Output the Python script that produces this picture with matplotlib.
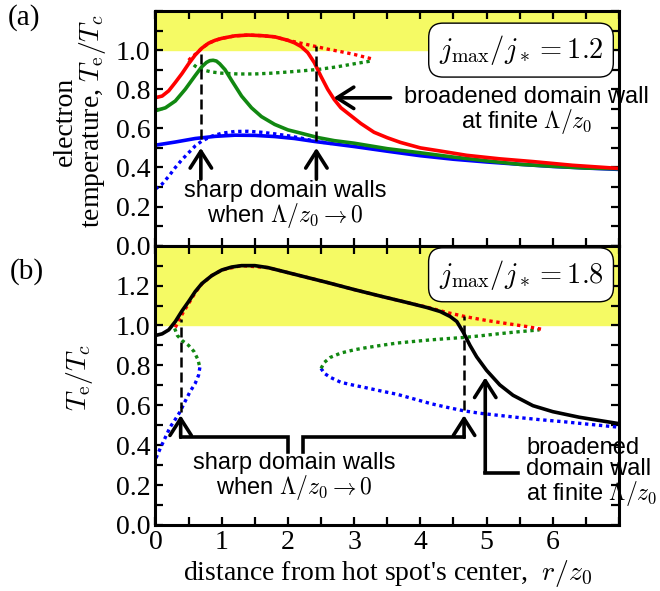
import matplotlib
matplotlib.use('Agg')
import matplotlib.pyplot as plt
from matplotlib.ticker import MultipleLocator

# ---------- panel (a): j_max/j_* = 1.2 ----------
r_red_a = [0, 0.1, 0.2, 0.3, 0.4, 0.5, 0.6, 0.7, 0.8, 0.9, 1.0, 1.2, 1.4, 1.6, 1.8, 2.0, 2.1, 2.2, 2.3, 2.4,
           2.5, 2.6, 2.7, 2.8, 2.95, 3.1, 3.3, 3.5, 3.7, 4.0, 4.3, 4.7, 5.2, 5.7, 6.3, 7.0]
t_red_a = [0.757, 0.765, 0.792, 0.835, 0.88, 0.93, 0.975, 1.01, 1.035, 1.05, 1.06, 1.073, 1.077, 1.074, 1.068, 1.05,
           1.037, 1.018, 0.987, 0.935, 0.865, 0.8, 0.747, 0.705, 0.665, 0.625, 0.58, 0.552, 0.528, 0.5, 0.484,
           0.462, 0.444, 0.43, 0.411, 0.395]
r_green_a = [0, 0.15, 0.3, 0.45, 0.6, 0.7, 0.77, 0.82, 0.87, 0.92, 0.97, 1.05, 1.15, 1.3, 1.45, 1.6, 1.8, 2.0,
             2.2, 2.45, 2.7, 3.0, 3.5, 4.0, 4.5, 5.0, 5.5, 6.0, 6.5, 7.0]
t_green_a = [0.69, 0.705, 0.74, 0.8, 0.87, 0.915, 0.937, 0.946, 0.948, 0.944, 0.93, 0.9, 0.845, 0.765, 0.705,
             0.66, 0.62, 0.592, 0.575, 0.553, 0.537, 0.524, 0.496, 0.475, 0.453, 0.434, 0.416, 0.406, 0.397, 0.393]
r_blue_a = [0, 0.3, 0.6, 0.9, 1.2, 1.5, 1.8, 2.1, 2.4, 2.7, 3.0, 3.5, 4.0, 4.5, 5.0, 5.5, 6.0, 6.5, 7.0]
t_blue_a = [0.514, 0.53, 0.548, 0.559, 0.565, 0.564, 0.558, 0.548, 0.533, 0.52, 0.507, 0.483, 0.46, 0.442,
            0.428, 0.416, 0.405, 0.397, 0.39]
# branches of the sharp-wall (Lambda -> 0) solution
r_red_dot_a = [0.5, 0.55, 0.6, 0.7, 0.8, 0.9, 1.0, 1.2, 1.4, 1.6, 1.8, 2.0, 2.2, 2.4, 2.6, 2.8, 3.0, 3.27]
t_red_dot_a = [0.948, 0.965, 0.978, 1.01, 1.035, 1.05, 1.06, 1.073, 1.077, 1.074, 1.068, 1.05, 1.035, 1.02,
               1.005, 0.992, 0.978, 0.955]
r_green_dot_a = [0.5, 0.6, 0.7, 0.85, 1.0, 1.25, 1.5, 1.75, 2.0, 2.25, 2.5, 2.75, 3.0, 3.27]
t_green_dot_a = [0.948, 0.918, 0.9, 0.888, 0.882, 0.878, 0.878, 0.882, 0.888, 0.895, 0.903, 0.915, 0.93, 0.945]
r_blue_dot_a = [0, 0.1, 0.2, 0.3, 0.4, 0.5, 0.6, 0.7, 0.85, 1.0, 1.2, 1.4, 1.6, 1.8, 2.0, 2.2, 2.4, 2.7]
t_blue_dot_a = [0.29, 0.315, 0.355, 0.4, 0.44, 0.475, 0.51, 0.535, 0.56, 0.575, 0.584, 0.585, 0.58, 0.572,
                0.562, 0.55, 0.535, 0.52]
walls_a = [0.685, 2.43]
walls_a_top = [1.0, 1.02]
walls_a_bot = [0.548, 0.533]

# ---------- panel (b): j_max/j_* = 1.8 ----------
r_black_b = [0, 0.1, 0.2, 0.3, 0.4, 0.5, 0.6, 0.7, 0.85, 1.0, 1.15, 1.3, 1.5, 1.7, 2.0, 2.3, 2.6, 3.0, 3.4,
             3.8, 4.1, 4.3, 4.45, 4.55, 4.65, 4.75, 4.85, 5.0, 5.2, 5.4, 5.7, 6.0, 6.4, 7.0]
t_black_b = [0.95, 0.958, 0.978, 1.02, 1.073, 1.12, 1.17, 1.21, 1.25, 1.278, 1.293, 1.3, 1.3, 1.29, 1.265,
             1.24, 1.215, 1.18, 1.147, 1.115, 1.09, 1.07, 1.045, 1.02, 0.965, 0.9, 0.843, 0.775, 0.702, 0.65,
             0.598, 0.568, 0.54, 0.508]
r_red_dot_b = [0.3, 0.35, 0.42, 0.5, 0.6, 0.7, 0.85, 1.0, 1.3, 1.7, 2.0, 2.6, 3.0, 3.4, 3.8, 4.1, 4.4, 4.7,
               5.0, 5.3, 5.6, 5.85]
t_red_dot_b = [0.99, 1.025, 1.067, 1.11, 1.165, 1.208, 1.25, 1.278, 1.3, 1.29, 1.265, 1.215, 1.18, 1.147,
               1.115, 1.092, 1.065, 1.043, 1.025, 1.01, 0.995, 0.98]
r_green_dot_b1 = [0.29, 0.33, 0.4, 0.5, 0.58, 0.64, 0.67]
t_green_dot_b1 = [0.985, 0.95, 0.925, 0.9, 0.87, 0.83, 0.79]
r_blue_dot_b1 = [0.67, 0.65, 0.6, 0.52, 0.44, 0.37, 0.3, 0.22, 0.15, 0.08, 0.0]
t_blue_dot_b1 = [0.79, 0.75, 0.71, 0.667, 0.615, 0.567, 0.53, 0.49, 0.44, 0.39, 0.33]
r_green_dot_b2 = [2.5, 2.55, 2.64, 2.8, 3.0, 3.15, 3.4, 3.65, 3.9, 4.16, 4.4, 4.66, 4.9, 5.17, 5.4, 5.6, 5.8]
t_green_dot_b2 = [0.785, 0.815, 0.84, 0.862, 0.878, 0.887, 0.9, 0.912, 0.92, 0.928, 0.934, 0.94, 0.948,
                  0.958, 0.966, 0.972, 0.978]
r_blue_dot_b2 = [2.5, 2.55, 2.64, 2.8, 3.0, 3.15, 3.4, 3.65, 3.9, 4.16, 4.4, 4.66, 4.9, 5.17, 5.5, 5.8, 6.18,
                 6.6, 7.0]
t_blue_dot_b2 = [0.785, 0.76, 0.74, 0.715, 0.7, 0.69, 0.672, 0.655, 0.632, 0.608, 0.59, 0.572, 0.56, 0.55,
                 0.538, 0.528, 0.517, 0.503, 0.49]
walls_b = [0.38, 4.66]
walls_b_top = [1.03, 1.05]
walls_b_bot = [0.567, 0.575]

plt.rcParams['font.family'] = 'Liberation Serif'
plt.rcParams['mathtext.fontset'] = 'cm'
plt.rcParams['font.size'] = 20

RED, GREEN, BLUE = '#ff0000', '#118811', '#0000ff'
YELLOW = '#f5fa64'
SOLID = 2.6
DOT = dict(linestyle=(0, (1, 1.1)), linewidth=2.4)
ARROW = dict(arrowstyle='->,head_length=0.55,head_width=0.35', lw=2.6, color='k',
             shrinkA=0, shrinkB=0, mutation_scale=22)
SANS = dict(family='Liberation Sans', fontsize=17)
BOX = dict(boxstyle='round,pad=0.35,rounding_size=0.5', fc='white', ec='k', lw=1.0)

fig = plt.figure(figsize=(6.6, 5.91), dpi=100)
ax_a = fig.add_axes([0.2356, 0.5843, 0.7023, 0.3971])
ax_b = fig.add_axes([0.2356, 0.1117, 0.7023, 0.4726])

for ax in (ax_a, ax_b):
    ax.set_xlim(0, 7)
    ax.xaxis.set_major_locator(MultipleLocator(1))
    ax.xaxis.set_minor_locator(MultipleLocator(0.5))
    ax.yaxis.set_minor_locator(MultipleLocator(0.1))
    ax.tick_params(which='both', direction='in', top=True, right=True, length=5.5, width=1.6)
    for s in ax.spines.values():
        s.set_linewidth(2.2)

# panel (a)
ax_a.set_ylim(0, 1.2)
ax_a.set_yticks([0, 0.2, 0.4, 0.6, 0.8, 1.0])
ax_a.set_yticklabels(['0.0', '0.2', '0.4', '0.6', '0.8', '1.0'])
ax_a.tick_params(labelbottom=False)
ax_a.axhspan(1.0, 1.2, color=YELLOW, zorder=0)
ax_a.plot(r_blue_dot_a, t_blue_dot_a, color=BLUE, **DOT)
ax_a.plot(r_green_dot_a, t_green_dot_a, color=GREEN, **DOT)
ax_a.plot(r_red_dot_a, t_red_dot_a, color=RED, **DOT)
ax_a.plot(r_blue_a, t_blue_a, color=BLUE, lw=SOLID)
ax_a.plot(r_green_a, t_green_a, color=GREEN, lw=SOLID)
ax_a.plot(r_red_a, t_red_a, color=RED, lw=SOLID)
ax_a.vlines(walls_a, walls_a_bot, walls_a_top, colors='k', linestyles=(0, (4, 2)), lw=1.8)
for x in walls_a:
    ax_a.annotate('', xy=(x, 0.5), xytext=(x, 0.34), arrowprops=ARROW)
ax_a.annotate('', xy=(2.69, 0.756), xytext=(3.55, 0.756), arrowprops=ARROW)
ax_a.text(1.96, 0.207, 'sharp domain walls\nwhen $\\Lambda/z_0\\to 0$', ha='center', va='center',
          linespacing=0.95, **SANS)
ax_a.text(5.6, 0.69, 'broadened domain wall\nat finite $\\Lambda/z_0$', ha='center', va='center',
          linespacing=0.95, **SANS)
ax_a.text(5.52, 1.0, '$j_\\mathrm{max}/j_* = 1.2$', ha='center', va='center', fontsize=20.5, bbox=BOX)

# panel (b)
ax_b.set_ylim(0, 1.4)
ax_b.set_yticks([0, 0.2, 0.4, 0.6, 0.8, 1.0, 1.2])
ax_b.set_yticklabels(['0.0', '0.2', '0.4', '0.6', '0.8', '1.0', '1.2'])
ax_b.set_xticks(range(0, 7))
ax_b.axhspan(1.0, 1.4, color=YELLOW, zorder=0)
ax_b.plot(r_blue_dot_b1, t_blue_dot_b1, color=BLUE, **DOT)
ax_b.plot(r_green_dot_b1, t_green_dot_b1, color=GREEN, **DOT)
ax_b.plot(r_blue_dot_b2, t_blue_dot_b2, color=BLUE, **DOT)
ax_b.plot(r_green_dot_b2, t_green_dot_b2, color=GREEN, **DOT)
ax_b.plot(r_red_dot_b, t_red_dot_b, color=RED, **DOT)
ax_b.plot(r_black_b, t_black_b, color='k', lw=SOLID)
ax_b.vlines(walls_b, walls_b_bot, walls_b_top, colors='k', linestyles=(0, (4, 2)), lw=1.8)
ax_b.plot([0.38, 2.0, 2.0], [0.44, 0.44, 0.367], color='k', lw=2.6, solid_joinstyle='miter')
ax_b.plot([2.23, 2.23, 4.66], [0.367, 0.44, 0.44], color='k', lw=2.6, solid_joinstyle='miter')
for x in walls_b:
    ax_b.annotate('', xy=(x, 0.55), xytext=(x, 0.44), arrowprops=ARROW)
ax_b.plot([5.47, 4.98], [0.263, 0.263], color='k', lw=2.6)
ax_b.annotate('', xy=(4.98, 0.74), xytext=(4.98, 0.263), arrowprops=ARROW)
ax_b.text(2.1, 0.24, 'sharp domain walls\nwhen $\\Lambda/z_0\\to 0$', ha='center', va='center',
          linespacing=0.95, **SANS)
ax_b.text(5.6, 0.265, 'broadened\ndomain wall\nat finite $\\Lambda/z_0$', ha='left', va='center',
          linespacing=0.95, **SANS)
ax_b.text(5.52, 1.254, '$j_\\mathrm{max}/j_* = 1.8$', ha='center', va='center', fontsize=20.5, bbox=BOX)
ax_b.set_xlabel("distance from hot spot's center,  $r/z_0$", labelpad=2)

# axis titles placed directly in figure coordinates
fig.text(0.122, 0.794, 'electron\ntemperature, $T_\\mathrm{e}/T_c$', rotation=90, ha='center',
         va='center', multialignment='center', linespacing=0.95)
fig.text(0.12, 0.362, '$T_\\mathrm{e}/T_c$', rotation=90, ha='center', va='center')
fig.text(0.012, 0.97, '(a)', fontsize=21, va='center')
fig.text(0.015, 0.54, '(b)', fontsize=21, va='center')

fig.savefig('out.png', dpi=100)
